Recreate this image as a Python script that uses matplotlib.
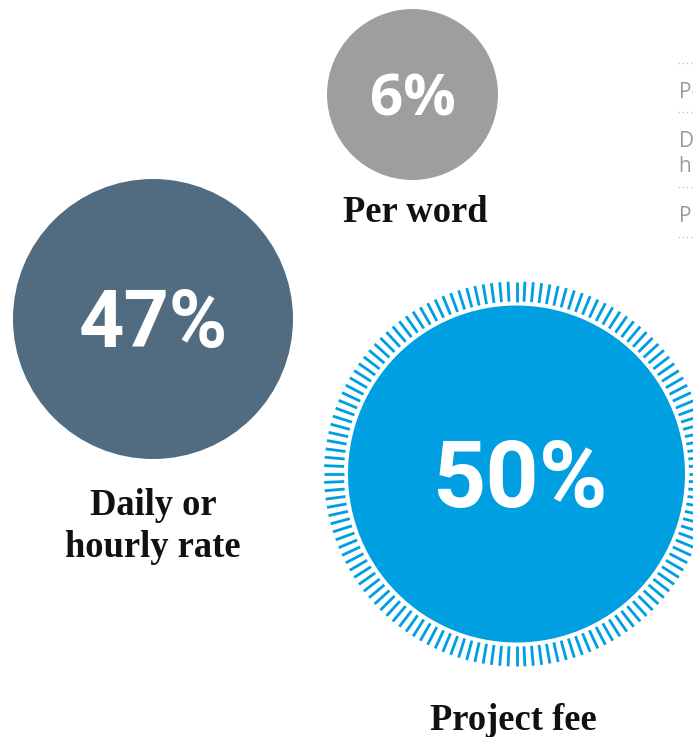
import numpy as np
import matplotlib
matplotlib.use("Agg")
import matplotlib.pyplot as plt
from matplotlib.patches import Circle
from matplotlib.collections import LineCollection

# Share of respondents by pricing model
categories = ["Per word", "Daily or\nhourly rate", "Project fee"]
values = [6, 47, 50]
highlight = "Project fee"

legend_labels = ["Per word", "Daily or\nhourly rate", "Project fee"]

# Layout (pixels, y downwards)
W, H = 693, 737
centers = {"Per word": (412.5, 94.5),
           "Daily or\nhourly rate": (153, 319),
           "Project fee": (516.5, 474)}
colors = {"Per word": "#9e9e9e",
          "Daily or\nhourly rate": "#516c81",
          "Project fee": "#009fe2"}
label_baselines = {"Per word": 222,
                   "Daily or\nhourly rate": 515,
                   "Project fee": 730}
label_x = {"Per word": 415, "Daily or\nhourly rate": 153, "Project fee": 513}
value_fonts = {"Per word": ("Open Sans", 42, 0),
               "Daily or\nhourly rate": ("Roboto", 57, 0),
               "Project fee": ("Roboto", 67, 3.5)}


def radius(v, is_highlight):
    r = 77.5 + 1.33 * v
    return r * 1.17 if is_highlight else r


fig = plt.figure(figsize=(W / 100, H / 100), dpi=100)
ax = fig.add_axes([0, 0, 1, 1])
ax.set_xlim(0, W)
ax.set_ylim(H, 0)
ax.set_aspect("equal")
ax.axis("off")

px2pt = 72 / 100

for cat, val in zip(categories, values):
    cx, cy = centers[cat]
    hl = cat == highlight
    r = radius(val, hl)
    ax.add_patch(Circle((cx, cy), r, facecolor=colors[cat], edgecolor="none"))

    if hl:
        # tick ring around the highlighted bubble
        n = 144
        ang = np.linspace(0, 2 * np.pi, n, endpoint=False)
        r0, r1 = r + 4, r + 24
        segs = [[(cx + r0 * np.cos(a), cy + r0 * np.sin(a)),
                 (cx + r1 * np.cos(a), cy + r1 * np.sin(a))] for a in ang]
        ax.add_collection(LineCollection(segs, colors=colors[cat],
                                         linewidths=2.8 * px2pt,
                                         capstyle="butt"))

    fam, size, dx = value_fonts[cat]
    size_px = size / px2pt
    ax.text(cx + dx, cy + 0.355 * size_px, f"{val}%", ha="center",
            va="baseline", color="white", fontsize=size, fontweight="bold",
            family=[fam, "Liberation Sans"])

    base = label_baselines[cat]
    for i, ln in enumerate(cat.split("\n")):
        ax.text(label_x[cat], base + i * 42, ln, ha="center", va="baseline",
                fontsize=26.3, fontweight="bold", family="Liberation Serif",
                color="#111111")

# Legend column at the right edge
sep_y = [63, 112, 187, 237]
for y in sep_y:
    ax.plot([678, W], [y, y], color="#c4c4c4", lw=1, ls=(0, (1, 2)))
legend_baselines = [98, 147, 222]
for lab, b in zip(legend_labels, legend_baselines):
    for i, ln in enumerate(lab.split("\n")):
        ax.text(679, b + i * 25, ln, ha="left", va="baseline",
                fontsize=15, family="Open Sans", color="#9a9a9a")

fig.savefig("out.png", dpi=100)
